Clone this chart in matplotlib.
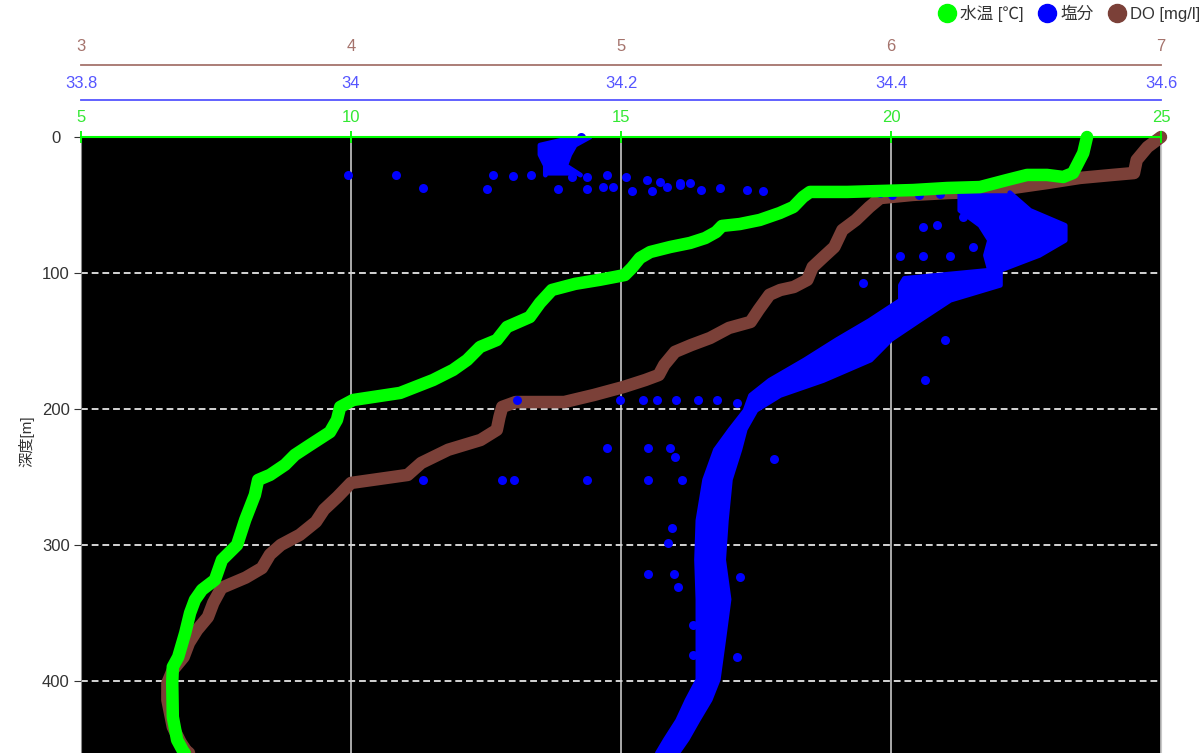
import matplotlib
matplotlib.use("Agg")
import matplotlib.pyplot as plt
from matplotlib.lines import Line2D
from matplotlib.ticker import FixedLocator

plt.rcParams['font.family'] = ['Liberation Sans', 'Noto Sans CJK JP', 'DejaVu Sans']

# ---------------- data ----------------
# Water temperature [deg C] profile
temp_depth = [0, 11.8, 26.5, 29.4, 27.9, 27.9, 31.6, 36.8, 37.5, 39.0, 39.7, 40.4, 40.4,
              44.1, 51.5, 55.9, 61.0, 64.0, 65.4, 69.9, 74.3, 77.9, 80.9, 84.6, 89.0,
              96.3, 101.5, 105.0, 108.0, 112.5, 122.0, 132.4, 139.7, 149.3, 154.4, 164.0,
              171.3, 178.7, 188.2, 193.4, 198.5, 208.0, 217.0, 226.5, 233.8, 241.0, 248.5,
              252.2, 263.2, 281.6, 300.0, 311.0, 325.7, 333.0, 340.4, 350.0, 364.7, 382.4,
              389.7, 401.5, 426.5, 443.4, 451.5, 453.0]
temp_value = [23.63, 23.56, 23.37, 23.19, 22.89, 22.52, 22.15, 21.65, 21.04, 20.41, 19.80,
              19.19, 18.50, 18.37, 18.19, 17.94, 17.57, 17.20, 16.87, 16.76, 16.56, 16.28,
              15.91, 15.54, 15.35, 15.20, 15.07, 14.61, 14.15, 13.72, 13.50, 13.31, 12.89,
              12.70, 12.39, 12.15, 11.89, 11.52, 10.91, 10.04, 9.80, 9.74, 9.61, 9.24, 8.96,
              8.78, 8.50, 8.28, 8.22, 8.04, 7.89, 7.61, 7.48, 7.24, 7.11, 7.02, 6.93, 6.80,
              6.70, 6.69, 6.70, 6.78, 6.89, 6.92]

# Dissolved oxygen [mg/l] profile
do_depth = [0, 7.4, 16.9, 26.5, 27.9, 30.1, 33.8, 37.5, 40.4, 41.2, 42.6, 44.9, 51.5, 61.0,
            68.4, 80.9, 88.2, 95.6, 105.1, 110.3, 112.5, 116.0, 127.0, 136.0, 140.4, 147.8,
            153.0, 158.0, 167.6, 175.0, 178.7, 183.8, 189.7, 194.9, 194.9, 198.5, 205.9,
            215.4, 222.8, 230.0, 239.7, 248.5, 254.4, 264.7, 274.0, 283.0, 292.6, 300.0,
            307.0, 317.0, 324.0, 331.6, 342.6, 353.0, 362.5, 372.0, 382.4, 392.0, 401.5,
            414.0, 433.8, 445.6, 451.5, 453.0]
do_value = [7.00, 6.95, 6.91, 6.90, 6.82, 6.70, 6.58, 6.45, 6.33, 6.21, 6.08, 5.96, 5.92,
            5.87, 5.82, 5.79, 5.75, 5.71, 5.69, 5.64, 5.59, 5.55, 5.51, 5.48, 5.40, 5.33,
            5.26, 5.20, 5.16, 5.14, 5.09, 5.01, 4.90, 4.79, 4.61, 4.56, 4.55, 4.54, 4.48,
            4.36, 4.26, 4.21, 4.00, 3.95, 3.90, 3.87, 3.81, 3.74, 3.70, 3.67, 3.61, 3.52,
            3.49, 3.47, 3.43, 3.40, 3.38, 3.34, 3.32, 3.32, 3.34, 3.37, 3.39, 3.40]

# Salinity: dense band of measurements (surface part and deep part)
sal_top_depth = [0, 6, 13, 21, 28]
sal_top_left = [34.166, 34.140, 34.140, 34.144, 34.144]
sal_top_right = [34.177, 34.166, 34.162, 34.159, 34.170]

sal_band_depth = [41, 54, 65, 76, 87, 98, 104, 109, 120, 135, 149, 164, 179, 190, 201,
                  215, 230, 252, 282, 311, 340, 370, 399, 414, 429, 443, 453]
sal_band_left = [34.451, 34.451, 34.466, 34.473, 34.470, 34.473, 34.410, 34.407, 34.407,
                 34.384, 34.360, 34.336, 34.310, 34.296, 34.292, 34.281, 34.270, 34.262,
                 34.257, 34.256, 34.257, 34.257, 34.257, 34.249, 34.242, 34.233, 34.227]
sal_band_right = [34.488, 34.503, 34.529, 34.529, 34.510, 34.481, 34.481, 34.481, 34.444,
                  34.421, 34.400, 34.385, 34.350, 34.318, 34.300, 34.292, 34.288, 34.281,
                  34.278, 34.276, 34.280, 34.276, 34.272, 34.266, 34.257, 34.249, 34.242]

# Salinity: scattered individual measurements
sal_pts_depth = [0, 2.2, 4.4, 9.6, 19.1, 24.3,
                 27.9, 27.9, 37.5, 27.9, 28.7, 27.9, 38.2, 38.2, 29.4, 29.4, 38.2, 36.8,
                 27.9, 36.8, 29.4, 39.7, 31.6, 39.7, 33.1, 36.8, 33.8, 35.3, 33.8, 39.0,
                 37.5, 39.0, 39.7, 39.0, 39.7, 41.2, 42.6, 42.6, 41.9,
                 66.2, 64.7, 58.8, 87.5, 87.5, 87.5, 80.9, 107.4, 149.3, 152.9, 178.7,
                 193.4, 193.4, 193.4, 193.4, 193.4, 193.4, 193.4, 195.6,
                 228.7, 228.7, 228.7, 235.3, 236.8,
                 252.2, 252.2, 252.2, 252.2, 252.2, 252.2,
                 287.5, 298.5, 321.3, 321.3, 330.9, 323.5, 358.8, 380.9, 382.4]
sal_pts_value = [34.170, 34.167, 34.157, 34.142, 34.147, 34.157,
                 33.998, 34.033, 34.053, 34.105, 34.120, 34.133, 34.101, 34.153, 34.164,
                 34.175, 34.175, 34.187, 34.190, 34.194, 34.204, 34.208, 34.219, 34.223,
                 34.229, 34.234, 34.244, 34.244, 34.251, 34.259, 34.273, 34.293, 34.305,
                 34.345, 34.357, 34.392, 34.401, 34.421, 34.436,
                 34.424, 34.434, 34.453, 34.407, 34.424, 34.444, 34.461, 34.379, 34.440,
                 34.377, 34.425,
                 34.123, 34.199, 34.216, 34.227, 34.241, 34.257, 34.271, 34.286,
                 34.190, 34.220, 34.236, 34.240, 34.313,
                 34.053, 34.112, 34.121, 34.175, 34.220, 34.245,
                 34.238, 34.235, 34.220, 34.239, 34.242, 34.288, 34.253, 34.253, 34.286]

depth_ticks = [0, 100, 200, 300, 400]
temp_ticks = [5, 10, 15, 20, 25]
sal_ticks = [33.8, 34.0, 34.2, 34.4, 34.6]
sal_tick_labels = ['33.8', '34', '34.2', '34.4', '34.6']
do_ticks = [3, 4, 5, 6, 7]

series_names = ['水温 [℃]', '塩分', 'DO [mg/l]']

# ---------------- styles ----------------
C_TEMP = '#00ff00'
C_SAL = '#0000ff'
C_DO = '#7b4038'
C_TEMP_AX = '#33e833'
C_SAL_AX = '#5555ff'
C_DO_AX = '#a5736c'
TXT = '#333333'
PX = 72 / 100  # points per pixel

fig = plt.figure(figsize=(12.04, 7.53), dpi=100)
rect = [81 / 1204, 0, 1080 / 1204, 616 / 753]

# base axes: DO scale, black plot area, grid, depth axis
ax_do = fig.add_axes(rect)
ax_do.set_facecolor('black')
ax_do.set_xlim(3, 7)
ax_do.set_ylim(453, 0)
ax_do.set_yticks(depth_ticks)

# twins
ax_sal = ax_do.twiny()
ax_t = ax_do.twiny()

# ---- DO axis (outermost) ----
ax_do.xaxis.tick_top()
ax_do.set_xticks(do_ticks)
ax_do.set_xticklabels([str(v) for v in do_ticks])
ax_do.grid(axis='x', color='#c8c8c8', lw=1.2, ls='-')
ax_do.grid(axis='y', color='#d4d4d4', lw=1.4, ls=(0, (3.5, 2)))
ax_do.set_axisbelow(True)
ax_do.spines['top'].set_position(('outward', 72 * PX))
ax_do.spines['top'].set_color(C_DO_AX)
ax_do.spines['top'].set_linewidth(1.3)
ax_do.spines['bottom'].set_visible(False)
ax_do.spines['left'].set_color('#888888')
ax_do.spines['right'].set_color('#c8c8c8')
ax_do.tick_params(axis='x', which='major', top=True, bottom=False, labeltop=True,
                  labelbottom=False, length=0, labelcolor=C_DO_AX, labelsize=12, pad=8)
ax_do.xaxis.set_minor_locator(FixedLocator([3, 7]))
ax_do.tick_params(axis='x', which='minor', top=True, bottom=False, length=11,
                  direction='inout', color=C_DO_AX, width=1.3)
ax_do.tick_params(axis='y', length=5, color='#333333', labelcolor=TXT,
                  labelsize=12, pad=13)
for lab in ax_do.get_yticklabels():
    lab.set_horizontalalignment('center')

ax_do.plot(do_value, do_depth, color=C_DO, lw=9, solid_capstyle='round',
           solid_joinstyle='round', clip_on=False, zorder=3)

# ---- salinity axis ----
ax_sal.set_xlim(33.8, 34.6)
ax_sal.set_xticks(sal_ticks)
ax_sal.set_xticklabels(sal_tick_labels)
ax_sal.spines['top'].set_position(('outward', 37 * PX))
ax_sal.spines['top'].set_color(C_SAL_AX)
ax_sal.spines['top'].set_linewidth(1.3)
for s in ['left', 'right', 'bottom']:
    ax_sal.spines[s].set_visible(False)
ax_sal.tick_params(axis='x', which='major', length=0, labelcolor=C_SAL_AX,
                   labelsize=12, pad=6.5)
ax_sal.xaxis.set_minor_locator(FixedLocator([33.8, 34.6]))
ax_sal.tick_params(axis='x', which='minor', top=True, bottom=False, length=11,
                   direction='inout', color=C_SAL_AX, width=1.3)

ax_sal.fill_betweenx(sal_top_depth, sal_top_left, sal_top_right, color=C_SAL,
                     lw=0, clip_on=False, zorder=3)
ax_sal.fill_betweenx(sal_band_depth, sal_band_left, sal_band_right, color=C_SAL,
                     lw=0, zorder=3)
for xs, ys in [(sal_top_left, sal_top_depth), (sal_top_right, sal_top_depth),
               (sal_band_left, sal_band_depth), (sal_band_right, sal_band_depth)]:
    ax_sal.plot(xs, ys, color=C_SAL, lw=3.5, solid_joinstyle='round',
                solid_capstyle='round', zorder=3)
ax_sal.scatter(sal_pts_value, sal_pts_depth, s=42, color=C_SAL, lw=0,
               clip_on=False, zorder=3)

# ---- temperature axis (top edge of plot) ----
ax_t.set_xlim(5, 25)
ax_t.set_xticks(temp_ticks)
ax_t.set_xticklabels([str(v) for v in temp_ticks])
ax_t.spines['top'].set_color(C_TEMP)
ax_t.spines['top'].set_linewidth(1.5)
for s in ['left', 'right', 'bottom']:
    ax_t.spines[s].set_visible(False)
ax_t.tick_params(axis='x', which='major', length=9, direction='inout', color=C_TEMP,
                 width=1.3, labelcolor=C_TEMP_AX, labelsize=12, pad=4)
ax_t.plot(temp_value, temp_depth, color=C_TEMP, lw=9, solid_capstyle='round',
          solid_joinstyle='round', clip_on=False, zorder=3)

# y label
fig.text(26 / 1204, 1 - 441 / 753, '深度[m]', rotation=90, ha='center', va='center',
         fontsize=11, color=TXT)

# legend
handles = [Line2D([], [], ls='', marker='o', markersize=13, color=c)
           for c in (C_TEMP, C_SAL, C_DO)]
fig.legend(handles, series_names, loc='upper right', bbox_to_anchor=(1200 / 1204, 1 - 5 / 753),
           ncol=3, frameon=False, fontsize=12, handlelength=0.9, handletextpad=0.3,
           columnspacing=1.0, borderaxespad=0, borderpad=0, labelcolor=TXT)

fig.savefig('out.png', dpi=100)
